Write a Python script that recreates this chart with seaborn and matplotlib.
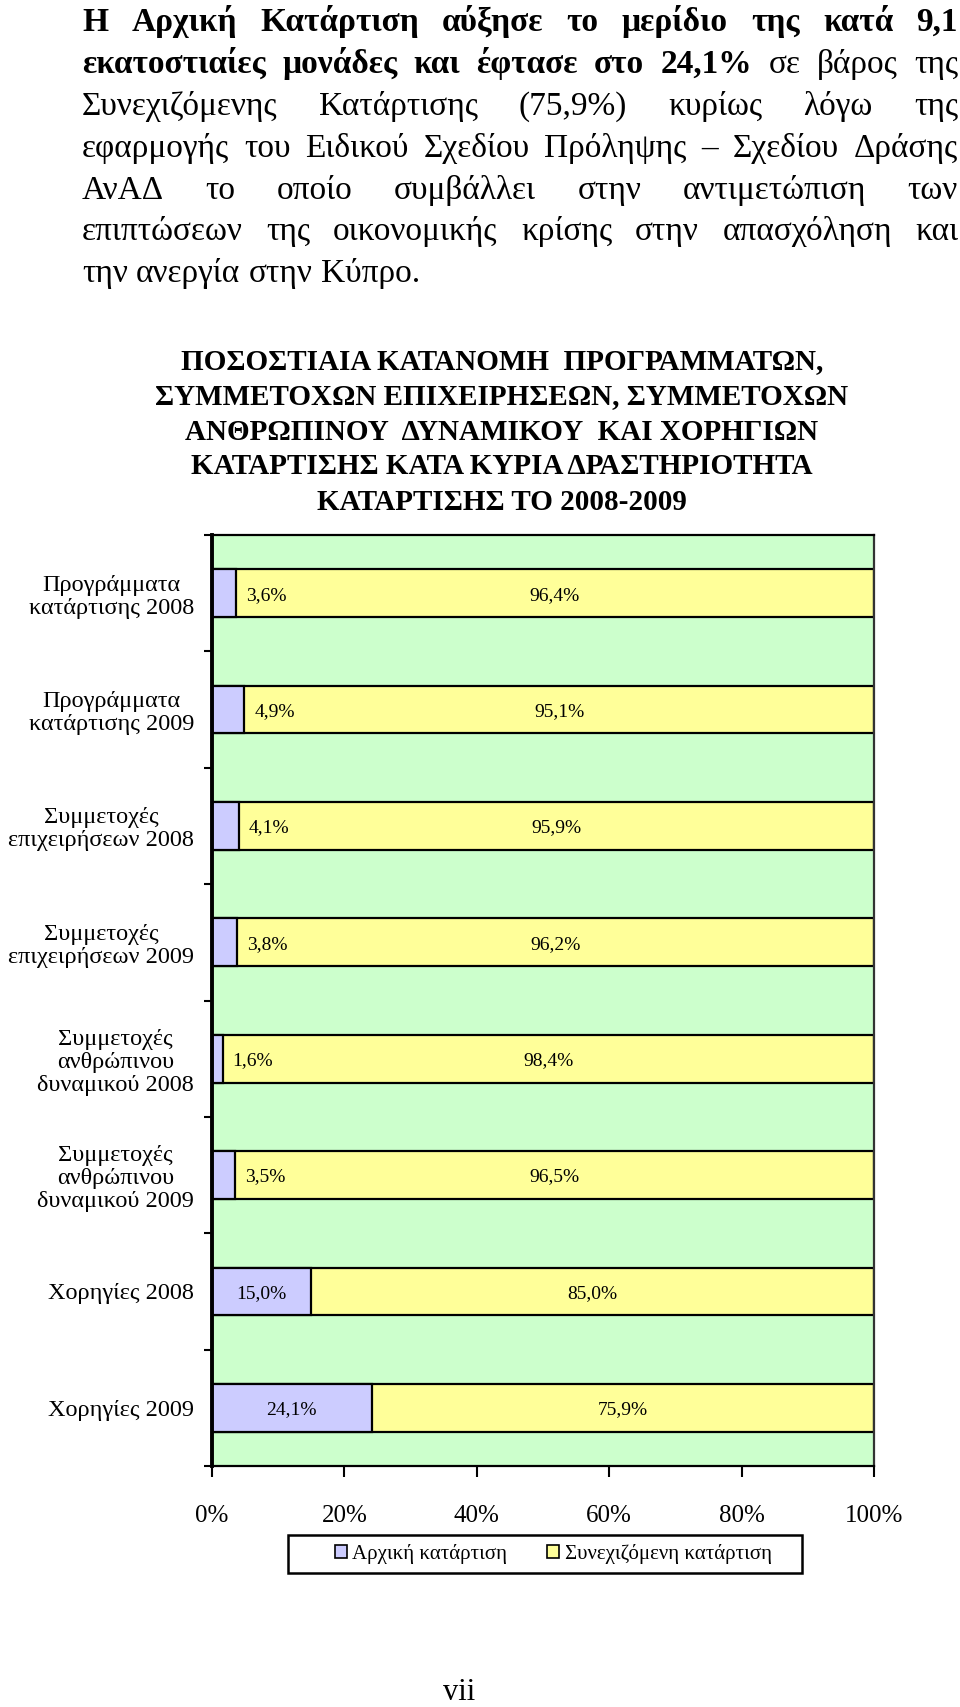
import matplotlib
matplotlib.use("Agg")
import matplotlib.pyplot as plt
import seaborn as sns
import pandas as pd
import numpy as np
from matplotlib.patches import Patch, Rectangle

# ---------------- data ----------------
categories = [
    "Προγράμματα\nκατάρτισης 2008",
    "Προγράμματα\nκατάρτισης 2009",
    "Συμμετοχές\nεπιχειρήσεων 2008",
    "Συμμετοχές\nεπιχειρήσεων 2009",
    "Συμμετοχές\nανθρώπινου\nδυναμικού 2008",
    "Συμμετοχές\nανθρώπινου\nδυναμικού 2009",
    "Χορηγίες 2008",
    "Χορηγίες 2009",
]
initial = [3.6, 4.9, 4.1, 3.8, 1.6, 3.5, 15.0, 24.1]
continuing = [96.4, 95.1, 95.9, 96.2, 98.4, 96.5, 85.0, 75.9]
x_ticks = [0, 20, 40, 60, 80, 100]
series_names = ["Αρχική κατάρτιση", "Συνεχιζόμενη κατάρτιση"]

title_lines = [
    "ΠΟΣΟΣΤΙΑΙΑ ΚΑΤΑΝΟΜΗ  ΠΡΟΓΡΑΜΜΑΤΩΝ,",
    "ΣΥΜΜΕΤΟΧΩΝ ΕΠΙΧΕΙΡΗΣΕΩΝ, ΣΥΜΜΕΤΟΧΩΝ",
    "ΑΝΘΡΩΠΙΝΟΥ  ΔΥΝΑΜΙΚΟΥ  ΚΑΙ ΧΟΡΗΓΙΩΝ",
    "ΚΑΤΑΡΤΙΣΗΣ ΚΑΤΑ ΚΥΡΙΑ ΔΡΑΣΤΗΡΙΟΤΗΤΑ",
    "ΚΑΤΑΡΤΙΣΗΣ ΤΟ 2008-2009",
]
paragraph_lines = [
    [("Η Αρχική Κατάρτιση αύξησε το μερίδιο της κατά 9,1", True)],
    [("εκατοστιαίες μονάδες και έφτασε στο 24,1%", True), ("σε βάρος της", False)],
    [("Συνεχιζόμενης Κατάρτισης (75,9%) κυρίως λόγω της", False)],
    [("εφαρμογής του Ειδικού Σχεδίου Πρόληψης – Σχεδίου Δράσης", False)],
    [("ΑνΑΔ το οποίο συμβάλλει στην αντιμετώπιση των", False)],
    [("επιπτώσεων της οικονομικής κρίσης στην απασχόληση και", False)],
    [("την ανεργία στην Κύπρο.", False)],
]
page_number = "vii"

# ---------------- style ----------------
sns.set_theme(style="white")
plt.rcParams["font.family"] = ["Liberation Serif", "DejaVu Serif"]
plt.rcParams["text.color"] = "black"

W, H = 960, 1707
fig = plt.figure(figsize=(W / 100, H / 100), dpi=100)
fig.patch.set_facecolor("white")


def fy(ypx):
    return 1 - ypx / H


# ---------------- chart ----------------
df = pd.DataFrame({"cat": categories, "initial": initial, "continuing": continuing})
df["total"] = df["initial"] + df["continuing"]

ax = fig.add_axes([212 / W, fy(1466), 662 / W, (1466 - 535) / H])
ax.set_facecolor("#CCFFCC")
sns.barplot(data=df, y="cat", x="total", orient="h", color="#FFFF99",
            saturation=1, edgecolor="black", linewidth=1.6, width=0.41,
            errorbar=None, ax=ax)
sns.barplot(data=df, y="cat", x="initial", orient="h", color="#CCCCFF",
            saturation=1, edgecolor="black", linewidth=1.6, width=0.41,
            errorbar=None, ax=ax)

ax.set_xlim(0, 100)
ax.set_ylim(len(categories) - 0.5, -0.5)
ax.set_xlabel("")
ax.set_ylabel("")


def fmt(v):
    return f"{v:.1f}".replace(".", ",") + "%"


for i, (a, c) in enumerate(zip(initial, continuing)):
    if a < 10:
        ax.text(a + 1.5, i, fmt(a), ha="left", va="center_baseline", fontsize=14)
    else:
        ax.text(a / 2, i, fmt(a), ha="center", va="center_baseline", fontsize=14)
    ax.text(a + c / 2, i, fmt(c), ha="center", va="center_baseline", fontsize=14)

# y ticks: marks at category boundaries, labels at centres
ax.set_yticks(np.arange(-0.5, len(categories), 1.0))
ax.set_yticklabels([])
ax.set_yticks(np.arange(len(categories)), minor=True)
ax.set_yticklabels(categories, minor=True, multialignment="center",
                   fontsize=17.5, linespacing=1.12)
ax.tick_params(axis="y", which="major", left=True, length=6, width=1.5,
               color="black", direction="out")
ax.tick_params(axis="y", which="minor", left=True, length=0, pad=13,
               labelcolor="black")

ax.set_xticks(x_ticks)
ax.set_xticklabels([f"{v}%" for v in x_ticks], fontsize=18)
ax.tick_params(axis="x", bottom=True, length=8, width=1.5, color="black",
               direction="out", pad=20, labelcolor="black")

for name, sp in ax.spines.items():
    sp.set_visible(True)
    sp.set_color("black")
    sp.set_linewidth(1.6)
ax.spines["left"].set_linewidth(2.8)
ax.spines["right"].set_color("#333333")

# legend (entries) + separate frame box
handles = [Patch(facecolor="#CCCCFF", edgecolor="black", linewidth=1.2, label=series_names[0]),
           Patch(facecolor="#FFFF99", edgecolor="black", linewidth=1.2, label=series_names[1])]
leg = fig.legend(handles=handles, loc="center", ncol=2,
                 bbox_to_anchor=(553 / W, fy(1554)),
                 borderaxespad=0, frameon=False,
                 fontsize=15, handlelength=0.6, handleheight=0.6,
                 handletextpad=0.25, columnspacing=1.9, borderpad=0.3)
fig.patches.append(Rectangle((288 / W, fy(1573)), 514 / W, 38 / H,
                             transform=fig.transFigure, facecolor="none",
                             edgecolor="black", linewidth=1.8, zorder=5))

# ---------------- chart title ----------------
title_y = [362, 397, 432, 467, 502]
for line, y in zip(title_lines, title_y):
    fig.text(502 / W, fy(y), line, ha="center", va="center",
             fontsize=21, fontweight="bold")

# ---------------- justified paragraph ----------------
renderer = fig.canvas.get_renderer()
para_size = 24
x_left, x_right = 82, 958
baselines = [31, 73, 115, 157, 199, 240, 282]

for li, (segs, yb) in enumerate(zip(paragraph_lines, baselines)):
    words = []
    for text, bold in segs:
        for w in text.split():
            words.append((w, bold))
    objs = []
    widths = []
    for w, b in words:
        t = fig.text(0, fy(yb), w, ha="left", va="baseline", fontsize=para_size,
                     fontweight="bold" if b else "normal")
        objs.append(t)
        widths.append(t.get_window_extent(renderer).width)
    last = li == len(paragraph_lines) - 1
    if last or len(words) == 1:
        gap = para_size * 100 / 72 * 0.25
    else:
        gap = (x_right - x_left - sum(widths)) / (len(words) - 1)
    x = x_left
    for t, wdt in zip(objs, widths):
        t.set_x(x / W)
        x += wdt + gap

# page number
fig.text(459 / W, fy(1692), page_number, ha="center", va="center", fontsize=22)

fig.savefig("out.png", dpi=100, facecolor="white")
